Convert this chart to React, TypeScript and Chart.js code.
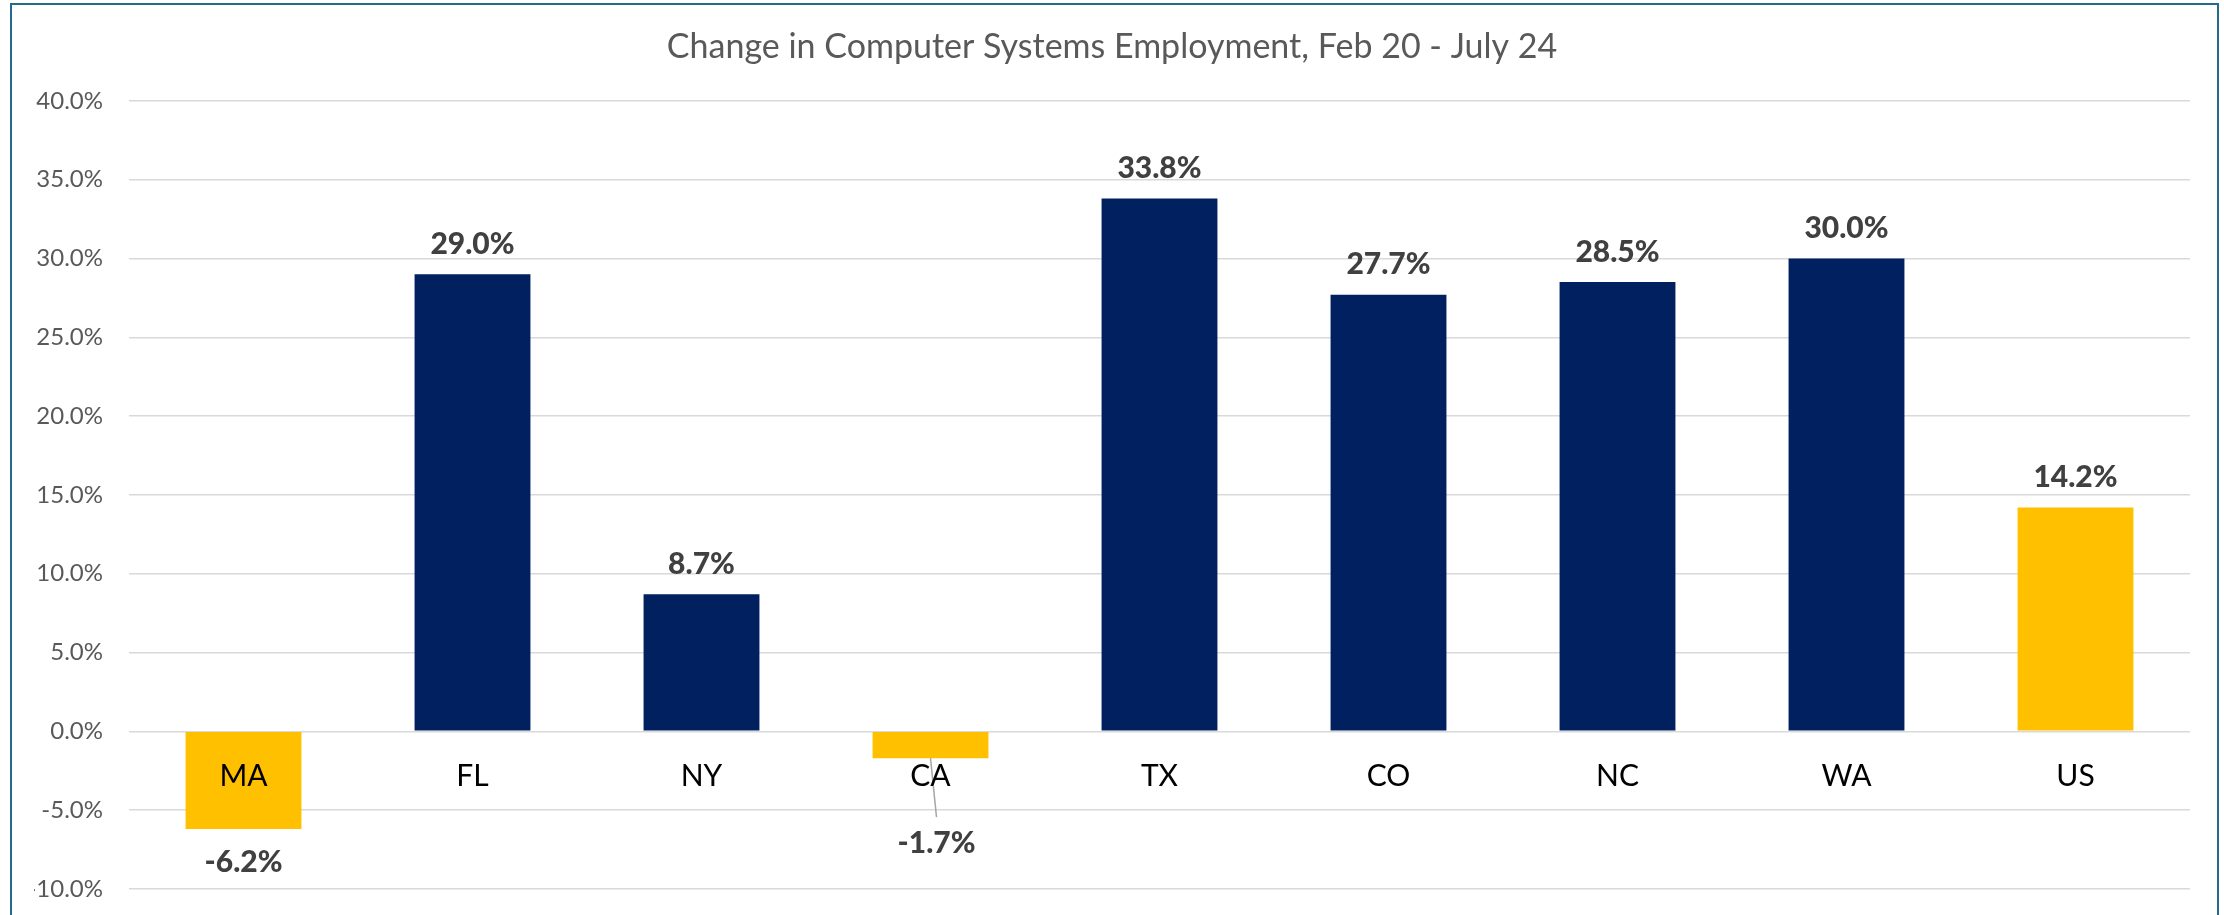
import React, { useEffect, useRef } from "react";
import { Chart, registerables } from "chart.js";

Chart.register(...registerables);

// ---- data ----
const chartTitle = "Change in Computer Systems Employment, Feb 20 - July 24";
const categories = ["MA", "FL", "NY", "CA", "TX", "CO", "NC", "WA", "US"];
const changePct = [-6.2, 29.0, 8.7, -1.7, 33.8, 27.7, 28.5, 30.0, 14.2];
const highlighted = ["MA", "CA", "US"];
const yMin = -10;
const yMax = 40;
const yStep = 5;

// ---- style ----
const NAVY = "#002060";
const GOLD = "#FFC000";
const FONT = "Lato, 'Open Sans', sans-serif";
const W = 2224;
const H = 915;
// label that is pulled away from its bar with a leader line (CA)
const leaderLabel: Record<string, { dx: number; dy: number }> = {
  CA: { dx: 6, dy: 52 },
};

const fmt = (v: number) => v.toFixed(1) + "%";

const valueLabels = {
  id: "valueLabels",
  afterDatasetsDraw(chart: any) {
    const ctx = chart.ctx as CanvasRenderingContext2D;
    const meta = chart.getDatasetMeta(0);
    ctx.save();
    ctx.font = `900 30px ${FONT}`;
    ctx.fillStyle = "#404040";
    ctx.textAlign = "center";
    ctx.textBaseline = "middle";
    meta.data.forEach((bar: any, i: number) => {
      const v = changePct[i];
      let x = bar.x;
      let y = v >= 0 ? bar.y - 30 : bar.y + 33;
      const off = leaderLabel[categories[i]];
      if (off) {
        x += off.dx;
        y += off.dy;
        ctx.save();
        ctx.strokeStyle = "#a6a6a6";
        ctx.lineWidth = 1.5;
        ctx.beginPath();
        ctx.moveTo(bar.x, bar.y);
        ctx.lineTo(x, y - 26);
        ctx.stroke();
        ctx.restore();
      }
      ctx.fillText(fmt(v), x, y);
    });
    ctx.restore();
  },
};

export default function App() {
  const ref = useRef<HTMLCanvasElement | null>(null);

  useEffect(() => {
    document.body.style.margin = "0";
    document.body.style.overflow = "hidden";
    const canvas = ref.current;
    if (!canvas) return;
    const chart = new Chart(canvas, {
      type: "bar",
      data: {
        labels: categories,
        datasets: [
          {
            data: changePct,
            backgroundColor: categories.map((c) => (highlighted.includes(c) ? GOLD : NAVY)),
            borderWidth: 0,
            barPercentage: 0.506,
            categoryPercentage: 1,
          },
        ],
      },
      plugins: [valueLabels],
      options: {
        animation: false,
        responsive: false,
        devicePixelRatio: 1,
        layout: { padding: { left: 34, right: 34, top: 0, bottom: 26 } },
        plugins: {
          legend: { display: false },
          tooltip: { enabled: false },
          title: {
            display: true,
            text: chartTitle,
            color: "#595959",
            font: { family: FONT, size: 34, weight: "normal", lineHeight: 1.2 },
            padding: { top: 27, bottom: 33 },
          },
        },
        scales: {
          x: {
            position: { y: 0 } as any,
            grid: { display: false },
            border: { display: false },
            ticks: {
              z: 1,
              color: "#000000",
              font: { family: FONT, size: 30, lineHeight: 1.2 },
              padding: 19,
              autoSkip: false,
              maxRotation: 0,
            },
          },
          y: {
            min: yMin,
            max: yMax,
            afterFit: (scale: any) => {
              scale.width = 95;
              scale.paddingTop = 15;
              scale.paddingBottom = 15;
            },
            grid: { color: "#d9d9d9", lineWidth: 1.5, drawTicks: false },
            border: { display: false },
            ticks: {
              stepSize: yStep,
              color: "#595959",
              font: { family: FONT, size: 24 },
              padding: 26,
              callback: (v: any) => fmt(Number(v)),
            },
          },
        },
      },
    });
    return () => chart.destroy();
  }, []);

  return (
    <div style={{ position: "relative", width: W, height: H, overflow: "hidden" }}>
      <canvas
        ref={ref}
        width={W}
        height={H}
        style={{ position: "absolute", left: 0, top: 0, width: W, height: H }}
      />
      <div
        style={{
          position: "absolute",
          left: 10,
          top: 3,
          width: 2209 - 4,
          height: H,
          border: "2px solid #236b8e",
          borderBottom: "none",
          pointerEvents: "none",
        }}
      />
    </div>
  );
}
